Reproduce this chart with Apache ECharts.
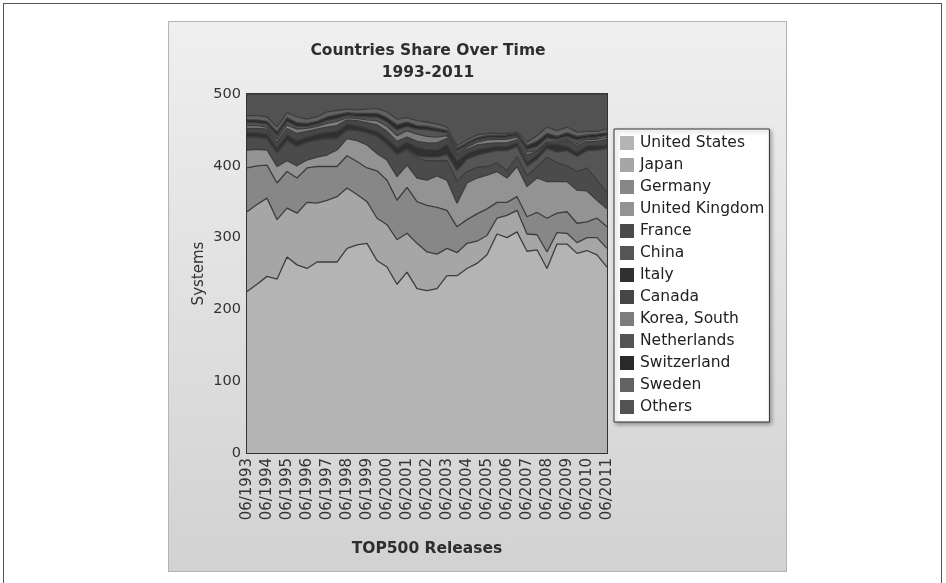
<!DOCTYPE html>
<html>
<head>
<meta charset="utf-8">
<script src="https://cdn.jsdelivr.net/npm/echarts@6/dist/echarts.min.js"></script>
<style>
  html, body { margin: 0; padding: 0; background: #fff; }
  #frame { position: absolute; left: 3px; top: 3px; width: 937px; height: 590px; border: 1px solid #555; }
  #panel { position: absolute; left: 168px; top: 21px; width: 617px; height: 549px;
           border: 1px solid #b4b4b4; background: linear-gradient(#efefef, #d2d2d2); }
  #chart { position: absolute; left: 0; top: 0; width: 946px; height: 583px; }
</style>
</head>
<body>
<div id="frame"></div>
<div id="panel"></div>
<div id="chart"></div>
<script>
// TOP500 releases, June and November of each year
const releases = [];
for (let y = 1993; y <= 2011; y++) {
  releases.push('06/' + y);
  if (y < 2011) releases.push('11/' + y);
}

// systems per country
const unitedStates = [225,235,246,242,273,262,257,266,266,266,285,290,292,268,259,235,252,229,226,229,247,247,257,264,276,305,300,308,281,283,257,291,291,278,282,276,259];
const japan        = [111,111,109,83,68,72,92,82,86,91,84,70,58,59,59,62,54,63,54,48,38,32,35,31,27,22,31,30,24,21,23,16,15,15,18,24,26];
const germany      = [61,54,46,51,51,49,48,51,47,42,45,46,47,66,62,55,64,58,65,65,53,36,33,38,37,22,18,19,24,31,47,27,30,27,22,27,30];
const unitedKingdom= [25,23,21,23,15,17,11,13,16,23,24,29,32,24,28,33,31,33,35,44,42,33,51,50,47,43,34,42,42,48,51,44,42,46,43,25,25];
const france       = [18,17,16,19,28,27,25,24,23,16,12,14,17,24,22,31,21,28,27,21,27,31,16,15,12,12,10,14,15,16,34,26,22,26,32,28,23];
const china        = [0,0,0,0,0,0,0,0,0,0,0,0,0,0,0,0,1,3,5,5,9,14,17,17,19,17,28,14,13,10,12,15,21,21,24,42,61];
const italy        = [6,6,6,7,8,8,7,8,9,10,8,7,6,7,8,9,10,12,11,10,14,14,8,8,7,6,6,5,6,6,6,11,6,6,7,6,5];
const canada       = [6,6,7,8,9,10,8,7,7,8,6,7,8,9,10,9,7,8,9,10,8,7,6,6,6,5,5,4,10,5,2,2,8,9,6,6,8];
const koreaSouth   = [4,4,3,4,5,6,4,4,5,6,3,3,4,6,7,8,9,10,9,8,4,2,3,4,5,5,5,4,4,1,1,2,2,3,3,3,3];
const netherlands  = [4,4,4,5,5,4,3,3,4,4,3,3,4,5,6,8,6,7,9,8,4,5,3,3,3,2,3,2,4,6,6,3,4,5,2,3,2];
const switzerland  = [4,4,4,5,5,5,4,4,5,5,4,4,5,5,6,7,6,5,5,4,3,3,3,3,3,3,3,3,5,7,6,4,5,5,4,4,4];
const sweden       = [6,6,6,7,7,8,6,6,7,6,5,5,6,7,8,8,6,7,6,6,5,4,4,4,3,3,2,2,5,8,9,8,8,6,5,4,5];
const others       = [30,30,32,46,26,32,35,32,25,23,21,22,21,20,25,35,33,37,39,42,46,72,64,57,55,55,55,53,67,58,46,51,46,53,52,52,49];

const countries = ['United States','Japan','Germany','United Kingdom','France','China','Italy',
                   'Canada','Korea, South','Netherlands','Switzerland','Sweden','Others'];
const values = [unitedStates, japan, germany, unitedKingdom, france, china, italy,
                canada, koreaSouth, netherlands, switzerland, sweden, others];
const shades = ['#b4b4b4','#a6a6a6','#878787','#939393','#4b4b4b','#555555','#303030',
                '#464646','#7c7c7c','#545454','#2a2a2a','#626262','#525252'];

const chart = echarts.init(document.getElementById('chart'), null, { renderer: 'canvas' });
const font = 'DejaVu Sans, Verdana, sans-serif';

chart.setOption({
  animation: false,
  textStyle: { fontFamily: font },
  title: {
    text: 'Countries Share Over Time\n1993-2011',
    left: 423, top: 35, textAlign: 'center',
    textStyle: { fontFamily: font, fontSize: 15.5, fontWeight: 'bold', color: '#2e2e2e', lineHeight: 22 }
  },
  legend: {
    orient: 'vertical',
    left: 614, top: 129,
    padding: [5, 5, 6, 6],
    itemWidth: 14, itemHeight: 14, itemGap: 4,
    icon: 'rect',
    backgroundColor: '#fff',
    borderColor: '#333', borderWidth: 1,
    shadowColor: 'rgba(0,0,0,0.35)', shadowBlur: 4, shadowOffsetX: 2, shadowOffsetY: 2,
    textStyle: { fontFamily: font, fontSize: 15.5, lineHeight: 18, color: '#222', padding: [0, 0, 0, 1] },
    data: countries
  },
  grid: {
    left: 247, top: 94, width: 360, height: 359,
    show: true, borderColor: '#333', borderWidth: 2, backgroundColor: 'transparent'
  },
  xAxis: {
    type: 'category',
    data: releases,
    boundaryGap: false,
    name: 'TOP500 Releases',
    nameLocation: 'middle',
    nameGap: 88,
    nameTextStyle: { fontFamily: font, fontSize: 15.5, fontWeight: 'bold', color: '#2e2e2e' },
    axisLine: { show: false },
    axisTick: { show: false },
    splitLine: { show: false },
    axisLabel: { interval: 1, rotate: 90, margin: 5, fontSize: 15, color: '#333', fontFamily: font }
  },
  yAxis: {
    type: 'value',
    min: 0, max: 500, interval: 100,
    name: 'Systems',
    nameLocation: 'middle',
    nameGap: 40,
    nameTextStyle: { fontFamily: font, fontSize: 15, color: '#333' },
    axisLine: { show: false },
    axisTick: { show: false },
    splitLine: { show: false },
    axisLabel: { margin: 6, fontSize: 14.5, color: '#333', fontFamily: font }
  },
  series: countries.map((name, i) => ({
    name,
    type: 'line',
    stack: 'total',
    data: values[i],
    symbol: 'none',
    silent: true,
    itemStyle: { color: shades[i] },
    lineStyle: { color: '#3c3c3c', width: 1.3 },
    areaStyle: { color: shades[i], opacity: 1 }
  }))
});
</script>
</body>
</html>
